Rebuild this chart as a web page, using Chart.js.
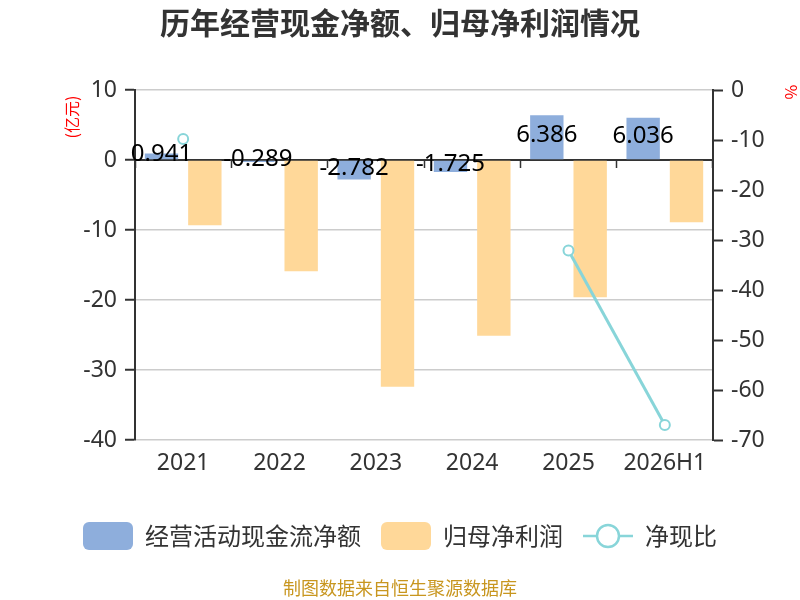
<!DOCTYPE html>
<html>
<head>
<meta charset="utf-8">
<script src="https://cdn.jsdelivr.net/npm/chart.js@4.4.1/dist/chart.umd.min.js"></script>
<style>
html,body{margin:0;padding:0;background:#fff;}
#wrap{width:800px;height:600px;position:relative;}
</style>
</head>
<body>
<div id="wrap"><canvas id="c"></canvas></div>
<script>
const categories = ['2021', '2022', '2023', '2024', '2025', '2026H1'];
const netCashFlow = [0.941, -0.289, -2.782, -1.725, 6.386, 6.036];
const netProfit = [-9.33, -15.9, -32.4, -25.1, -19.6, -8.9];
const cashRatio = [-9.8, null, null, null, -32.1, -67.0];
const leftTicks = [-40, -30, -20, -10, 0, 10];
const rightTicks = [-70, -60, -50, -40, -30, -20, -10, 0];
const seriesNames = ['经营活动现金流净额', '归母净利润', '净现比'];
const titleText = '历年经营现金净额、归母净利润情况';
const leftUnit = '(亿元)';
const rightUnit = '%';
const footerText = '制图数据来自恒生聚源数据库';

const BLUE = '#8eaedc';
const ORANGE = '#ffd899';
const TEAL = '#88d5d9';
const FONT = '"Noto Sans", "Noto Sans CJK SC", sans-serif';
const CJK = '"Noto Sans CJK SC", "Noto Sans", sans-serif';

function boxIcon(color) {
  const c = document.createElement('canvas');
  c.width = 50; c.height = 28;
  const g = c.getContext('2d');
  g.fillStyle = color;
  g.beginPath();
  g.roundRect(0, 0, 50, 28, 6);
  g.fill();
  return c;
}
function lineIcon(color) {
  const c = document.createElement('canvas');
  c.width = 52; c.height = 28;
  const g = c.getContext('2d');
  g.strokeStyle = color;
  g.lineWidth = 2.5;
  g.beginPath(); g.moveTo(1, 14); g.lineTo(51, 14); g.stroke();
  g.fillStyle = '#fff';
  g.beginPath(); g.arc(26, 14, 11, 0, Math.PI * 2); g.fill(); g.stroke();
  return c;
}
const legendIcons = [boxIcon(BLUE), boxIcon(ORANGE), lineIcon(TEAL)];

const extras = {
  id: 'extras',
  afterDraw(chart) {
    const ctx = chart.ctx;
    ctx.save();
    // bar value labels
    const meta = chart.getDatasetMeta(0);
    ctx.font = '24px ' + FONT;
    ctx.fillStyle = '#000';
    ctx.textAlign = 'center';
    ctx.textBaseline = 'middle';
    meta.data.forEach((bar, i) => {
      const y = (bar.y + bar.base) / 2 - 2;
      ctx.fillText(netCashFlow[i].toFixed(3), bar.x, y);
    });
    // axis unit names
    ctx.fillStyle = '#ff0000';
    ctx.font = '16px ' + CJK;
    ctx.save();
    ctx.translate(72, 117);
    ctx.rotate(-Math.PI / 2);
    ctx.fillText(leftUnit, 0, 0);
    ctx.restore();
    ctx.save();
    ctx.translate(791, 92);
    ctx.rotate(Math.PI / 2);
    ctx.fillText(rightUnit, 0, 0);
    ctx.restore();
    // footer
    ctx.fillStyle = '#c8961f';
    ctx.font = '18px ' + CJK;
    ctx.fillText(footerText, chart.width / 2, 588);
    ctx.restore();
  }
};

new Chart(document.getElementById('c'), {
  data: {
    labels: categories,
    datasets: [
      { type: 'bar', label: seriesNames[0], data: netCashFlow, backgroundColor: BLUE, yAxisID: 'y', xAxisID: 'x',
        categoryPercentage: 0.9, barPercentage: 0.77, order: 1 },
      { type: 'bar', label: seriesNames[1], data: netProfit, backgroundColor: ORANGE, yAxisID: 'y', xAxisID: 'x',
        categoryPercentage: 0.9, barPercentage: 0.77, order: 1 },
      { type: 'line', label: seriesNames[2], data: cashRatio, yAxisID: 'y1', xAxisID: 'x',
        borderColor: TEAL, borderWidth: 3, pointRadius: 5, pointBorderWidth: 2,
        pointBackgroundColor: '#fff', pointBorderColor: TEAL, spanGaps: false, order: -1 }
    ]
  },
  options: {
    responsive: true,
    maintainAspectRatio: false,
    animation: false,
    layout: { padding: { left: 0, right: 0, top: 0, bottom: 42 } },
    plugins: {
      tooltip: { enabled: false },
      title: {
        display: true, text: titleText, color: '#333',
        font: { size: 30, weight: 'bold', family: CJK, lineHeight: 1.2 },
        padding: { top: 5, bottom: 49 }
      },
      legend: {
        position: 'bottom',
        labels: {
          usePointStyle: true, pointStyleWidth: 50, boxHeight: 28, padding: 20,
          color: '#333', font: { size: 24, family: CJK },
          generateLabels: (chart) => chart.data.datasets.map((ds, i) => ({
            text: ds.label, pointStyle: legendIcons[i], fillStyle: 'transparent',
            strokeStyle: 'transparent', lineWidth: 0, fontColor: '#333',
            hidden: !chart.isDatasetVisible(i), datasetIndex: i
          }))
        }
      }
    },
    scales: {
      x: {
        type: 'category', position: 'bottom', offset: true,
        grid: { display: false, drawTicks: false },
        border: { display: false },
        ticks: { color: '#333', font: { size: 23, family: FONT }, padding: 10 },
        afterFit: (s) => { s.height = 64; }
      },
      x2: {
        type: 'category', labels: categories, position: { y: 0 }, offset: true, z: 1,
        grid: { offset: true, drawOnChartArea: false, drawTicks: true, tickLength: 7, tickColor: '#333', tickWidth: 1.5 },
        border: { display: true, color: '#333', width: 2 },
        ticks: { display: false }
      },
      y: {
        position: 'left', min: leftTicks[0], max: leftTicks[leftTicks.length - 1],
        ticks: { stepSize: 10, color: '#333', font: { size: 23, family: FONT }, padding: 8 },
        grid: { color: '#cccccc', lineWidth: 1.5, tickLength: 10, tickColor: '#333', tickWidth: 2 },
        border: { display: true, color: '#333', width: 2 },
        afterFit: (s) => { s.width = 135; }
      },
      y1: {
        position: 'right', min: rightTicks[0], max: rightTicks[rightTicks.length - 1],
        ticks: { stepSize: 10, color: '#333', font: { size: 23, family: FONT }, padding: 8 },
        grid: { drawOnChartArea: false, tickLength: 10, tickColor: '#333', tickWidth: 2 },
        border: { display: true, color: '#333', width: 2 },
        afterFit: (s) => { s.width = 87; }
      }
    }
  },
  plugins: [extras]
});
</script>
</body>
</html>
